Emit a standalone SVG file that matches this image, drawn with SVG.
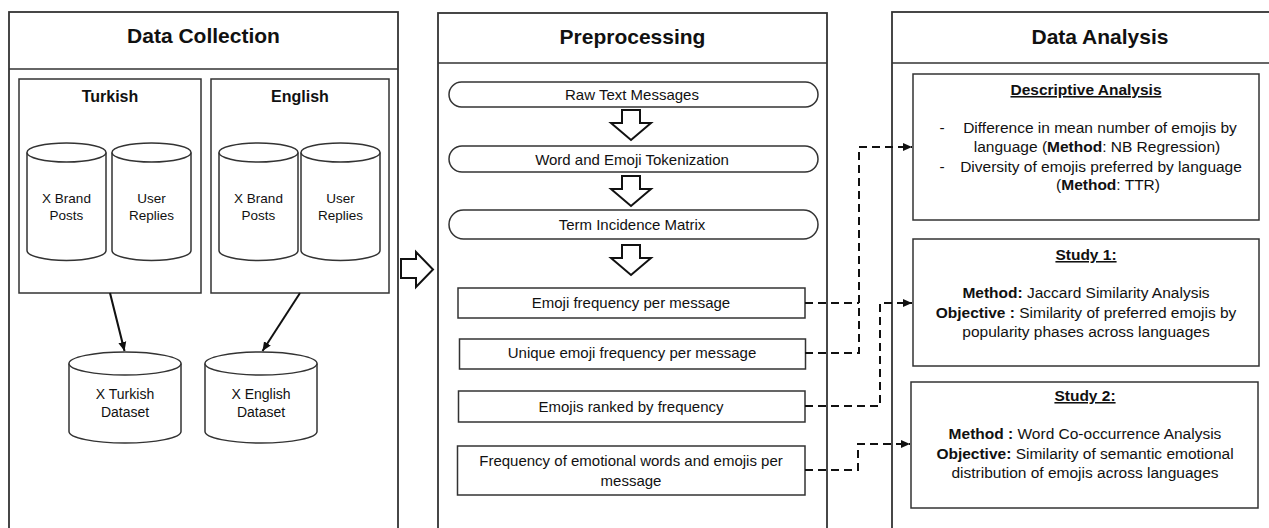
<svg xmlns="http://www.w3.org/2000/svg" width="1269" height="528" viewBox="0 0 1269 528">
<style>
text{font-family:"Liberation Sans",Arial,sans-serif;fill:#111}
.hd{font-size:21px;font-weight:bold;text-anchor:middle}
.sub{font-size:16px;font-weight:bold;text-anchor:middle}
.cy{font-size:13.5px;text-anchor:middle}
.ds{font-size:14px;text-anchor:middle}
.t{font-size:15px;text-anchor:middle}
.r{font-size:15.5px;text-anchor:middle}
.b{font-weight:bold}
.u{text-decoration:underline;font-weight:bold}
.pn{fill:#fff;stroke:#333;stroke-width:1.8}
.bx{fill:#fff;stroke:#333;stroke-width:1.5}
.ln{fill:none;stroke:#333;stroke-width:1.5}
.dash{fill:none;stroke:#111;stroke-width:2;stroke-dasharray:8 5}
.sol{fill:none;stroke:#111;stroke-width:2}
.ha{fill:#fff;stroke:#111;stroke-width:2;stroke-linejoin:miter}
</style>
<defs>
<marker id="ah" markerWidth="10" markerHeight="10" refX="9" refY="5" orient="auto" markerUnits="userSpaceOnUse">
<path d="M0,1 L9,5 L0,9 Z" fill="#111"/>
</marker>
<g id="cyl79">
<path class="bx" d="M0,0 V98 A39.5,10 0 0 0 79,98 V0"/>
<ellipse class="bx" cx="39.5" cy="0" rx="39.5" ry="9.5"/>
</g>
<g id="cyl112">
<path class="bx" d="M0,0 V68 A56,11.5 0 0 0 112,68 V0"/>
<ellipse class="bx" cx="56" cy="0" rx="56" ry="11.5"/>
</g>
<path id="dn" d="M-9,0 H9 V13 H20 L0,30 L-20,13 H-9 Z"/>
</defs>

<g id="data-collection">
<rect class="pn" x="9" y="12" width="389" height="530"/>
<line class="ln" x1="9" y1="69" x2="398" y2="69"/>
<text class="hd" x="203.5" y="43">Data Collection</text>
</g>
<g id="turkish">
<rect class="bx" x="19" y="79" width="182" height="214"/>
<text class="sub" x="110" y="102">Turkish</text>
</g>
<g id="tr-brand">
<use href="#cyl79" x="27" y="152.5"/>
<text class="cy" x="66.5" y="203">X Brand</text>
<text class="cy" x="66.5" y="220">Posts</text>
</g>
<g id="tr-replies">
<use href="#cyl79" x="112" y="152.5"/>
<text class="cy" x="151.5" y="203">User</text>
<text class="cy" x="151.5" y="220">Replies</text>
</g>
<g id="english">
<rect class="bx" x="211" y="79" width="178" height="214"/>
<text class="sub" x="300" y="102">English</text>
</g>
<g id="en-brand">
<use href="#cyl79" x="219" y="152.5"/>
<text class="cy" x="258.5" y="203">X Brand</text>
<text class="cy" x="258.5" y="220">Posts</text>
</g>
<g id="en-replies">
<use href="#cyl79" x="301" y="152.5"/>
<text class="cy" x="340.5" y="203">User</text>
<text class="cy" x="340.5" y="220">Replies</text>
</g>
<g id="tr-dataset">
<use href="#cyl112" x="69" y="363.5"/>
<text class="ds" x="125" y="399">X Turkish</text>
<text class="ds" x="125" y="417">Dataset</text>
</g>
<g id="en-dataset">
<use href="#cyl112" x="205" y="363.5"/>
<text class="ds" x="261" y="399">X English</text>
<text class="ds" x="261" y="417">Dataset</text>
</g>

<g id="preprocessing">
<rect class="pn" x="438" y="13" width="389" height="530"/>
<line class="ln" x1="438" y1="63" x2="827" y2="63"/>
<text class="hd" x="632.5" y="44">Preprocessing</text>
</g>
<g id="raw">
<rect class="bx" x="449" y="82" width="369" height="25" rx="12.5"/>
<text class="t" x="632" y="100">Raw Text Messages</text>
</g>
<g id="token">
<rect class="bx" x="449" y="146" width="369" height="26" rx="13"/>
<text class="t" x="632" y="164.5">Word and Emoji Tokenization</text>
</g>
<g id="tim">
<rect class="bx" x="449" y="210" width="369" height="29" rx="14.5"/>
<text class="t" x="632" y="229.5">Term Incidence Matrix</text>
</g>
<g id="f1">
<rect class="bx" x="458" y="288" width="347" height="30"/>
<text class="t" x="631" y="308">Emoji frequency per message</text>
</g>
<g id="f2">
<rect class="bx" x="459.5" y="339" width="346" height="30"/>
<text class="t" x="632" y="358">Unique emoji frequency per message</text>
</g>
<g id="f3">
<rect class="bx" x="458.5" y="391" width="346.5" height="31"/>
<text class="t" x="631" y="412">Emojis ranked by frequency</text>
</g>
<g id="f4">
<rect class="bx" x="457.5" y="446" width="347.5" height="49"/>
<text class="t" x="631" y="466">Frequency of emotional words and emojis per</text>
<text class="t" x="631" y="486">message</text>
</g>

<g id="data-analysis">
<rect class="pn" x="892" y="12" width="420" height="530"/>
<line class="ln" x1="892" y1="63" x2="1269" y2="63"/>
<text class="hd" x="1100" y="44">Data Analysis</text>
</g>
<g id="descriptive">
<rect class="bx" x="913" y="74" width="346" height="146"/>
<text class="r u" x="1086" y="95">Descriptive Analysis</text>
<text class="r" x="942" y="133" text-anchor="start">-</text>
<text class="r" x="1100" y="133">Difference in mean number of emojis by</text>
<text class="r" x="1097" y="152">language (<tspan class="b">Method</tspan>: NB Regression)</text>
<text class="r" x="942" y="172" text-anchor="start">-</text>
<text class="r" x="1101" y="172">Diversity of emojis preferred by language</text>
<text class="r" x="1108" y="190">(<tspan class="b">Method</tspan>: TTR)</text>
</g>
<g id="study1">
<rect class="bx" x="913" y="239" width="346" height="127"/>
<text class="r u" x="1086" y="260">Study 1:</text>
<text class="r" x="1086" y="298"><tspan class="b">Method:</tspan> Jaccard Similarity Analysis</text>
<text class="r" x="1086" y="318"><tspan class="b">Objective :</tspan> Similarity of preferred emojis by</text>
<text class="r" x="1086" y="337">popularity phases across languages</text>
</g>
<g id="study2">
<rect class="bx" x="911" y="382" width="347" height="126"/>
<text class="r u" x="1085" y="401">Study 2:</text>
<text class="r" x="1085" y="439"><tspan class="b">Method :</tspan> Word Co-occurrence Analysis</text>
<text class="r" x="1085" y="459"><tspan class="b">Objective:</tspan> Similarity of semantic emotional</text>
<text class="r" x="1085" y="478">distribution of emojis across languages</text>
</g>

<g id="connectors">
<line class="sol" x1="110" y1="293" x2="124.5" y2="351" marker-end="url(#ah)"/>
<line class="sol" x1="300" y1="293" x2="262.5" y2="351" marker-end="url(#ah)"/>
<path class="ha" d="M401,259 H416 V252 L433,269.5 L416,287 V278 H401 Z"/>
<use href="#dn" x="631" y="110" class="ha"/>
<use href="#dn" x="631" y="176" class="ha"/>
<use href="#dn" x="631" y="245" class="ha"/>
<path class="dash" d="M805,353 H859 V147 H912" marker-end="url(#ah)"/>
<path class="dash" d="M805,303 H859"/>
<path class="dash" d="M805,406 H880 V303 H912" marker-end="url(#ah)"/>
<path class="dash" d="M805,470 H858 V444 H910" marker-end="url(#ah)"/>
</g>
</svg>
